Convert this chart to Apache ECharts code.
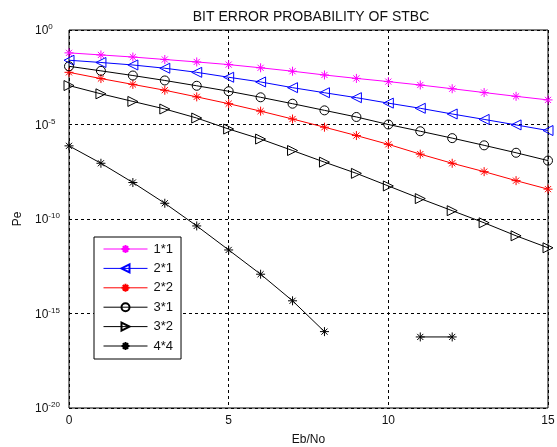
<!DOCTYPE html>
<html><head><meta charset="utf-8">
<script src="https://cdn.jsdelivr.net/npm/echarts@6/dist/echarts.min.js"></script>
<style>html,body{margin:0;padding:0;background:#fff}#c{width:557px;height:447px}</style>
</head><body><div id="c"></div>
<script>
var ebno = [0,1,2,3,4,5,6,7,8,9,10,11,12,13,14,15];
var names = ['1*1','2*1','2*2','3*1','3*2','4*4'];
var pe11 = [6.17e-2,4.79e-2,3.72e-2,2.75e-2,2.04e-2,1.48e-2,1.0e-2,6.6e-3,4.17e-3,2.75e-3,1.86e-3,1.23e-3,7.8e-4,4.9e-4,3.1e-4,2.0e-4];
var pe21 = [2.51e-2,1.91e-2,1.41e-2,9.5e-3,5.75e-3,3.16e-3,1.78e-3,8.9e-4,4.8e-4,2.63e-4,1.35e-4,7.2e-5,3.6e-5,1.86e-5,9.5e-6,4.8e-6];
var pe22 = [5.75e-3,2.69e-3,1.32e-3,6.5e-4,2.9e-4,1.26e-4,5.1e-5,1.95e-5,7.2e-6,2.6e-6,8.9e-7,2.7e-7,8.9e-8,3.2e-8,1.07e-8,3.8e-9];
var pe31 = [1.2e-2,6.9e-3,3.9e-3,2.14e-3,1.12e-3,5.75e-4,2.75e-4,1.26e-4,5.6e-5,2.5e-5,1.0e-5,4.4e-6,1.9e-6,7.9e-7,3.2e-7,1.23e-7];
var pe32 = [1.15e-3,4.2e-4,1.66e-4,6.6e-5,2.2e-5,5.75e-6,1.7e-6,4.2e-7,1.02e-7,2.6e-8,5.6e-9,1.2e-9,2.75e-10,6.3e-11,1.29e-11,3.0e-12];
var pe44 = [7.4e-7,8.9e-8,8.5e-9,6.8e-10,4.3e-11,2.3e-12,1.2e-13,4.7e-15,1.1e-16,null,null,5.75e-17,5.75e-17,null,null,null];
var yTicks = [1,1e-5,1e-10,1e-15,1e-20];

var FONT = 'Liberation Sans';
var STAR = 'path://M5,0 L5,10 M0,5 L10,5 M1.6,1.6 L8.4,8.4 M1.6,8.4 L8.4,1.6';
function pairs(arr){ return ebno.map(function(x,i){ return [x, arr[i]]; }); }
function mk(name, arr, color, symbol, size, rot){
  return {
    name: name, type: 'line', data: pairs(arr), connectNulls: false,
    symbol: symbol, symbolSize: size, symbolRotate: rot || 0, showSymbol: true,
    lineStyle: {color: color, width: 1},
    itemStyle: {color: 'rgba(255,255,255,0)', borderColor: color, borderWidth: 1},
    emphasis: {disabled: true}, animation: false, z: 3
  };
}
var chart = echarts.init(document.getElementById('c'), null, {renderer: 'canvas'});
chart.setOption({
  backgroundColor: '#fff',
  animation: false,
  title: {text: 'BIT ERROR PROBABILITY OF STBC', left: 306, textAlign: 'center', top: 5,
    textStyle: {fontFamily: FONT, fontSize: 14, fontWeight: 'normal', color: '#111'}},
  grid: {left: 69, right: 9, top: 30, bottom: 39, show: true, borderColor: '#000', borderWidth: 1,
    backgroundColor: '#fff', containLabel: false, outerBoundsMode: 'none'},
  legend: {
    orient: 'vertical', left: 94, top: 237, padding: [5.5, 8, 6.5, 9],
    itemWidth: 44, itemHeight: 10, itemGap: 6.4,
    borderColor: '#000', borderWidth: 1, backgroundColor: '#fff',
    lineStyle: {width: 1},
    textStyle: {fontFamily: FONT, fontSize: 13, color: '#111', padding: [0,0,0,1]},
    data: names, z: 10
  },
  xAxis: {
    type: 'value', min: 0, max: 15, interval: 5,
    name: 'Eb/No', nameLocation: 'middle', nameGap: 26,
    nameTextStyle: {fontFamily: FONT, fontSize: 12, color: '#111'},
    axisLine: {show: false}, axisTick: {show: false},
    axisLabel: {fontFamily: FONT, fontSize: 12, color: '#111', margin: 7},
    splitLine: {show: true, lineStyle: {color: '#000', type: [3,3], width: 1}}
  },
  yAxis: {
    type: 'log', logBase: 10, min: 1e-20, max: 1, interval: 5,
    name: 'Pe', nameLocation: 'middle', nameGap: 40,
    nameTextStyle: {fontFamily: FONT, fontSize: 12, color: '#111'},
    axisLine: {show: false}, axisTick: {show: false},
    axisLabel: {
      margin: 34, align: 'left', fontFamily: FONT,
      formatter: function(v){ var e = Math.round(Math.log10(v)); return '{b|10}{s|' + e + '}'; },
      rich: {
        b: {fontFamily: FONT, fontSize: 12, color: '#111', verticalAlign: 'bottom', lineHeight: 14},
        s: {fontFamily: FONT, fontSize: 8, color: '#111', verticalAlign: 'top', lineHeight: 14, padding: [0,0,6,0]}
      }
    },
    splitLine: {show: true, lineStyle: {color: '#000', type: [3,3], width: 1}}
  },
  series: [
    mk('1*1', pe11, '#ff00ff', STAR, 9),
    mk('2*1', pe21, '#0000ff', 'triangle', 10, 90),
    mk('2*2', pe22, '#ff0000', STAR, 9),
    mk('3*1', pe31, '#000000', 'circle', 9),
    mk('3*2', pe32, '#000000', 'triangle', 10, -90),
    mk('4*4', pe44, '#000000', STAR, 9)
  ]
});
</script>
</body></html>
